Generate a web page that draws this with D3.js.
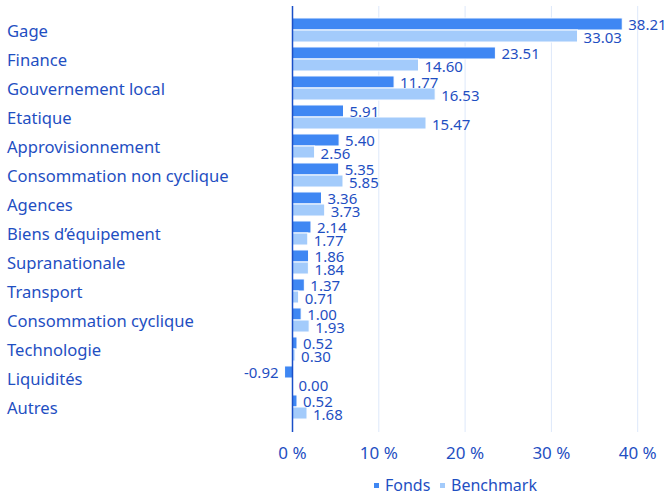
<!DOCTYPE html>
<html>
<head>
<meta charset="utf-8">
<script src="https://cdn.jsdelivr.net/npm/d3@7"></script>
<style>
  body { margin: 0; background: #fff; }
  svg { display: block; font-family: "Noto Sans", sans-serif; }
</style>
</head>
<body>
<div id="chart"></div>
<script>
const categories = [
  "Gage", "Finance", "Gouvernement local", "Etatique", "Approvisionnement",
  "Consommation non cyclique", "Agences", "Biens d\u2019équipement", "Supranationale",
  "Transport", "Consommation cyclique", "Technologie", "Liquidités", "Autres"
];
const fonds = [38.21, 23.51, 11.77, 5.91, 5.40, 5.35, 3.36, 2.14, 1.86, 1.37, 1.00, 0.52, -0.92, 0.52];
const benchmark = [33.03, 14.60, 16.53, 15.47, 2.56, 5.85, 3.73, 1.77, 1.84, 0.71, 1.93, 0.30, 0.00, 1.68];
const seriesNames = ["Fonds", "Benchmark"];
const xTicks = [0, 10, 20, 30, 40];

const width = 670, height = 496;
const textColor = "#1f4fc2";
const colors = { Fonds: "#3f87f3", Benchmark: "#a3cbfb" };

const rows = categories.map((c, i) => ({ cat: c, Fonds: fonds[i], Benchmark: benchmark[i] }));

const x = d3.scaleLinear().domain([0, 40]).range([292.5, 637.7]);

const y = d3.scaleBand()
  .domain(categories)
  .range([15.5, 421.5])
  .paddingInner(0.17)
  .paddingOuter(0.085);

const ySub = d3.scaleBand()
  .domain(seriesNames)
  .range([0, y.bandwidth()]);

const svg = d3.select("#chart")
  .append("svg")
  .attr("width", width)
  .attr("height", height)
  .attr("viewBox", [0, 0, width, height]);

// gridlines
svg.append("g")
  .selectAll("line")
  .data(xTicks.filter(d => d !== 0))
  .join("line")
  .attr("x1", d => x(d)).attr("x2", d => x(d))
  .attr("y1", 6).attr("y2", 432)
  .attr("stroke", "#dde8fa")
  .attr("stroke-width", 1);

// category labels
svg.append("g")
  .selectAll("text")
  .data(categories)
  .join("text")
  .attr("x", 7)
  .attr("y", d => y(d) + y.bandwidth() / 2 + 7)
  .attr("fill", textColor)
  .attr("font-size", 16.6)
  .text(d => d);

// bars
const groups = svg.append("g")
  .selectAll("g")
  .data(rows)
  .join("g")
  .attr("transform", d => `translate(0,${y(d.cat)})`);

groups.selectAll("rect")
  .data(d => seriesNames.map(s => ({ key: s, value: d[s] })))
  .join("rect")
  .attr("x", d => x(Math.min(0, d.value)))
  .attr("y", d => ySub(d.key))
  .attr("width", d => Math.abs(x(d.value) - x(0)))
  .attr("height", ySub.bandwidth())
  .attr("fill", d => colors[d.key])
  .attr("stroke", "#fff")
  .attr("stroke-width", 1);

groups.selectAll("text")
  .data(d => seriesNames.map(s => ({ key: s, value: d[s] })))
  .join("text")
  .attr("x", d => d.value < 0 ? x(d.value) - 6 : x(d.value) + 6)
  .attr("y", d => ySub(d.key) + ySub.bandwidth() / 2 + 6.5)
  .attr("text-anchor", d => d.value < 0 ? "end" : "start")
  .attr("fill", textColor)
  .attr("font-size", 15)
  .text(d => d.value.toFixed(2));

// zero axis line
svg.append("line")
  .attr("x1", x(0)).attr("x2", x(0))
  .attr("y1", 6).attr("y2", 432)
  .attr("stroke", "#1a4fc8")
  .attr("stroke-width", 1.5);

// x axis tick labels
svg.append("g")
  .selectAll("text")
  .data(xTicks)
  .join("text")
  .attr("x", d => x(d))
  .attr("y", 459)
  .attr("text-anchor", "middle")
  .attr("fill", textColor)
  .attr("font-size", 17)
  .text(d => d + " %");

// legend
const legend = svg.append("g").attr("transform", "translate(374,491)");
const legendItems = [
  { key: "Fonds", x: 0 },
  { key: "Benchmark", x: 66 }
];
legend.selectAll("rect")
  .data(legendItems)
  .join("rect")
  .attr("x", d => d.x)
  .attr("y", -8)
  .attr("width", 5)
  .attr("height", 5)
  .attr("fill", d => colors[d.key]);
legend.selectAll("text")
  .data(legendItems)
  .join("text")
  .attr("x", d => d.x + 11)
  .attr("y", 0)
  .attr("fill", textColor)
  .attr("font-size", 16)
  .text(d => d.key);
</script>
</body>
</html>
